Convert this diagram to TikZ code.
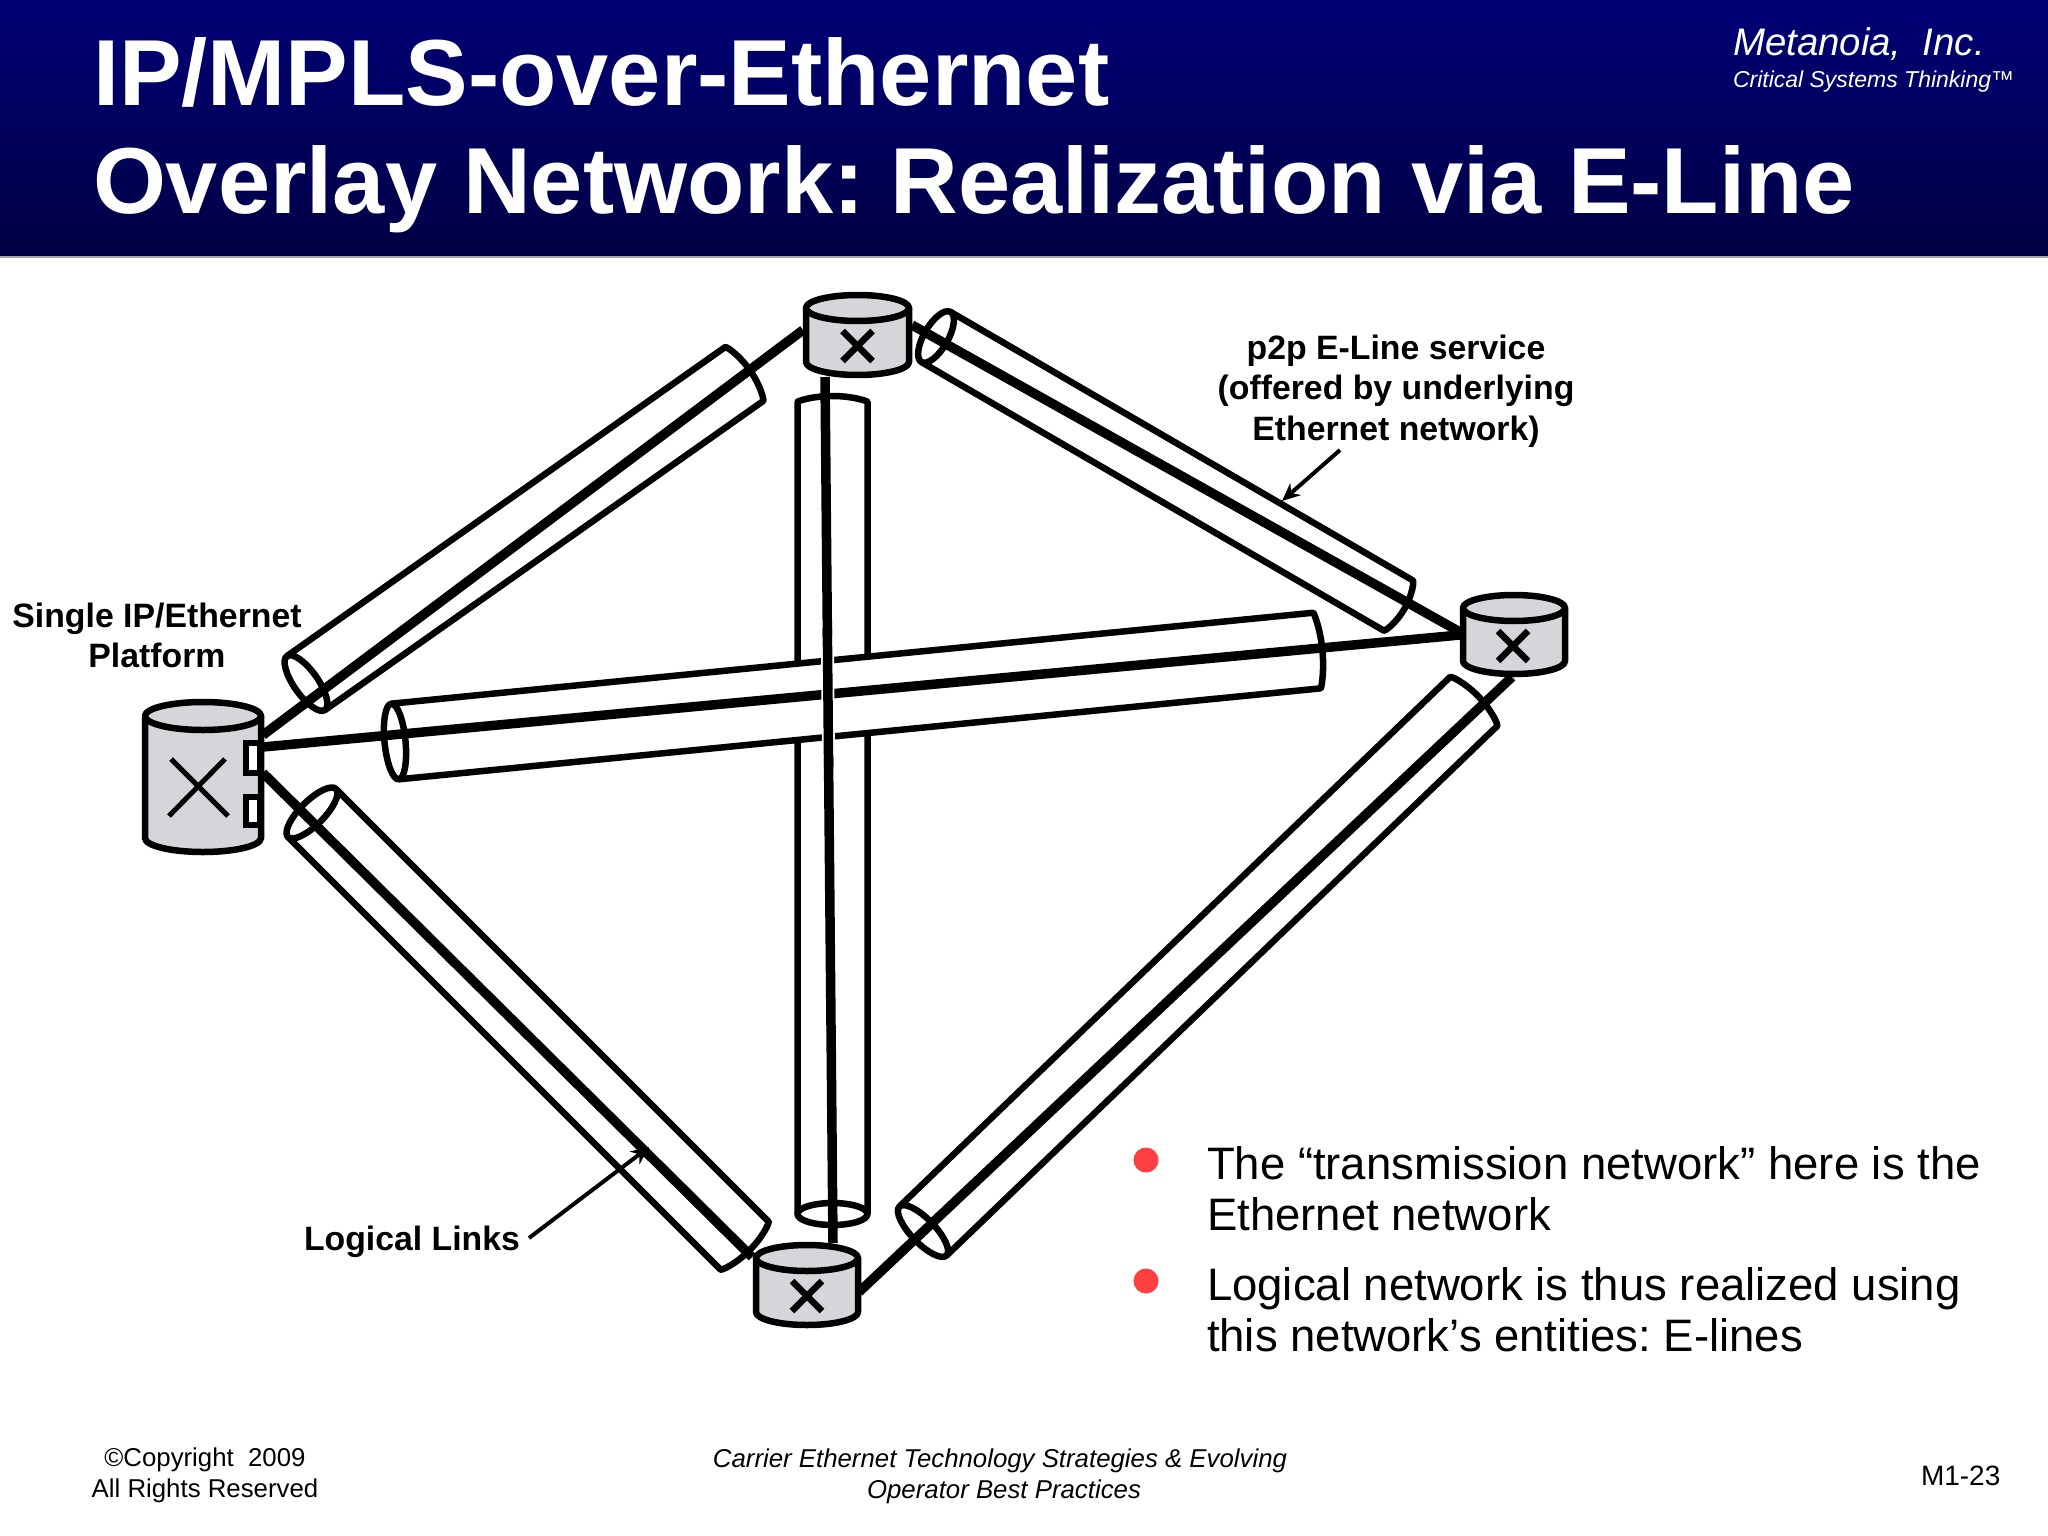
\documentclass[tikz,border=0pt]{standalone}
\usepackage{fontspec}
\setmainfont{Liberation Sans}
\usetikzlibrary{arrows.meta,calc}
\definecolor{routergray}{RGB}{214,214,218}
\definecolor{bulletred}{RGB}{255,64,64}
\definecolor{headtop}{RGB}{0,0,118}
\definecolor{headbot}{RGB}{0,0,68}
\tikzset{
  txt/.style={inner sep=0pt,outer sep=0pt,anchor=base west},
  ctxt/.style={inner sep=0pt,outer sep=0pt,anchor=base},
  tubeline/.style={line width=6.5pt,line join=round},
  linkline/.style={line width=9.5pt},
  routerline/.style={line width=6.5pt,fill=routergray,line join=round},
  xmark/.style={line width=6.5pt},
  callout/.style={line width=4pt,-{Stealth[length=18pt,width=16pt]}},
  bullet/.style={circle,fill=bulletred,inner sep=0pt,minimum size=25pt},
  portbox/.style={line width=6.5pt,fill=white},
}
\newcommand{\fsz}[1]{\fontsize{#1pt}{#1pt}\selectfont}
% tube: ellipse end centre (#1,#2), open end centre (#3,#4), half width #5, minor radius #6
\newcommand{\tube}[6]{%
  \pgfmathsetmacro\tubeL{veclen(#3-#1,#4-#2)}%
  \pgfmathsetmacro\tubeA{atan2(#2-#4,#3-#1)}%
  \begin{scope}[shift={(#1,#2)},rotate=\tubeA]
    \path[fill=white,rounded corners=5pt] (0pt,#5pt) -- (\tubeL pt,#5pt) arc[start angle=90,end angle=-90,x radius=#6pt,y radius=#5pt] -- (0pt,-#5pt) -- cycle;
    \draw[tubeline,rounded corners=5pt] (0pt,#5pt) -- (\tubeL pt,#5pt) arc[start angle=90,end angle=-90,x radius=#6pt,y radius=#5pt] -- (0pt,-#5pt);
    \draw[tubeline,fill=white] (0pt,0pt) ellipse[x radius=#6pt,y radius=#5pt];
  \end{scope}}
% router: name, cx, top cy, half width, bottom side y, ry
\newcommand{\router}[6]{%
  \coordinate (#1) at (#2,#3);
  \draw[routerline] ({#2-#4},#3) -- ({#2-#4},#5) arc[start angle=180,end angle=360,x radius=#4pt,y radius=#6pt] -- ({#2+#4},#3) -- cycle;
  \draw[routerline] (#2,#3) ellipse[x radius=#4pt,y radius=#6pt];}
\newcommand{\xcross}[4][xmark]{%
  \draw[#1] ({#2-#4},{#3-#4}) -- ({#2+#4},{#3+#4});
  \draw[#1] ({#2+#4},{#3-#4}) -- ({#2-#4},{#3+#4});}
\frenchspacing
\begin{document}
\begin{tikzpicture}[x=1pt,y=-1pt]
\useasboundingbox (0,0) rectangle (2048,1536);
\fill[white] (0,0) rectangle (2048,1536);
\shade[top color=headtop,bottom color=headbot] (0,0) rectangle (2048,256);
\fill[gray!70] (0,256) rectangle (2048,257.5);

% link end coordinates
\coordinate (bigA) at (263,735);
\coordinate (bigB) at (263,747);
\coordinate (bigC) at (263,773);
\coordinate (topL) at (803,330);
\coordinate (topR) at (912,325);
\coordinate (topD) at (825,377);
\coordinate (rgtL) at (1460,632);
\coordinate (rgtH) at (1460,635);
\coordinate (rgtD) at (1512,677);
\coordinate (botU) at (833,1243);
\coordinate (botL) at (752,1257);
\coordinate (botR) at (859,1292);

% tubes and links
\tube{306}{683}{740}{377}{33}{12}
\draw[linkline] (bigA) -- (topL);
\tube{936}{337}{1394}{603}{29}{12}
\draw[linkline] (topR) -- (rgtL);
\tube{312}{813}{741}{1242}{34}{12}
\draw[linkline] (bigC) -- (botL);
\tube{923}{1231}{1470}{705}{34}{12}
\draw[linkline] (botR) -- (rgtD);
\tube{832.5}{1214}{832.5}{407}{35}{11}
\draw[linkline] (topD) -- (botU);
\tube{395}{741.5}{1312}{651}{38}{10.5}
\draw[linkline] (bigB) -- (rgtH);
\draw[line width=13pt,white] ($(topD)!0.30!(botU)$) -- ($(topD)!0.44!(botU)$);
\draw[linkline] ($(topD)!0.29!(botU)$) -- ($(topD)!0.45!(botU)$);

% routers
\router{big}{203}{716}{58}{838}{14}
\draw[portbox] (246,743) rectangle (260,773);
\draw[portbox] (246,797) rectangle (260,825);
\draw[line width=5pt] (171,759) -- (228,816);
\draw[line width=5pt] (225,759) -- (169,816);
\router{top}{857.5}{308}{51.5}{362}{13}
\xcross{857.5}{346}{15}
\router{bot}{807}{1258}{51}{1312}{13}
\xcross{807}{1296}{15}
\router{rgt}{1514}{608}{51}{661}{13}
\xcross{1513}{646}{15}

% header text
\node[txt,text=white,font=\bfseries\fsz{93.8}] (title1) at (93,106) {IP/MPLS-over-Ethernet};
\node[txt,text=white,font=\bfseries\fsz{93.8}] (title2) at (93,213) {Overlay Network: Realization via E-Line};
\node[txt,text=white,font=\itshape\fsz{38.4}] (meta) at (1733,56) {Metanoia,\ \ Inc.};
\node[txt,text=white,font=\itshape\fsz{23}] (crit) at (1733,88) {Critical Systems Thinking™};

% labels
\node[ctxt,font=\bfseries\fsz{33.8}] (eline1) at (1396,359) {p2p E-Line service};
\node[ctxt,font=\bfseries\fsz{33.8}] (eline2) at (1396,399) {(offered by underlying};
\node[ctxt,font=\bfseries\fsz{33.8}] (eline3) at (1396,440) {Ethernet network)};
\coordinate (elineS) at (1340,450);
\coordinate (elineT) at (1282,501);
\draw[callout] (elineS) -- (elineT);
\node[ctxt,font=\bfseries\fsz{33.8}] (plat1) at (157,627) {Single IP/Ethernet};
\node[ctxt,font=\bfseries\fsz{33.8}] (plat2) at (157,667) {Platform};
\node[txt,font=\bfseries\fsz{33.8}] (logical) at (304,1250.5) {Logical Links};
\coordinate (logS) at (529,1238);
\coordinate (logT) at (649,1147);
\draw[callout] (logS) -- (logT);

% bullets
\node[bullet] (b1) at (1146,1160) {};
\node[bullet] (b2) at (1146,1281) {};
\node[txt,font=\fsz{45.5}] (t1) at (1207,1179) {The “transmission network” here is the};
\node[txt,font=\fsz{45.5}] (t2) at (1207,1230.5) {Ethernet network};
\node[txt,font=\fsz{45.5}] (t3) at (1207,1300) {Logical network is thus realized using};
\node[txt,font=\fsz{45.5}] (t4) at (1207,1351.5) {this network’s entities: E-lines};

% footer
\node[ctxt,font=\fsz{25.8}] (copy1) at (205,1466) {©Copyright\ \ 2009};
\node[ctxt,font=\fsz{25.8}] (copy2) at (205,1497) {All Rights Reserved};
\node[ctxt,font=\itshape\fsz{25.8}] (foot1) at (1000,1467) {Carrier Ethernet Technology Strategies \& Evolving};
\node[ctxt,font=\itshape\fsz{25.8}] (foot2) at (1004,1498) {Operator Best Practices};
\node[txt,font=\fsz{28}] (page) at (1921,1485) {M1-23};
\end{tikzpicture}
\end{document}
